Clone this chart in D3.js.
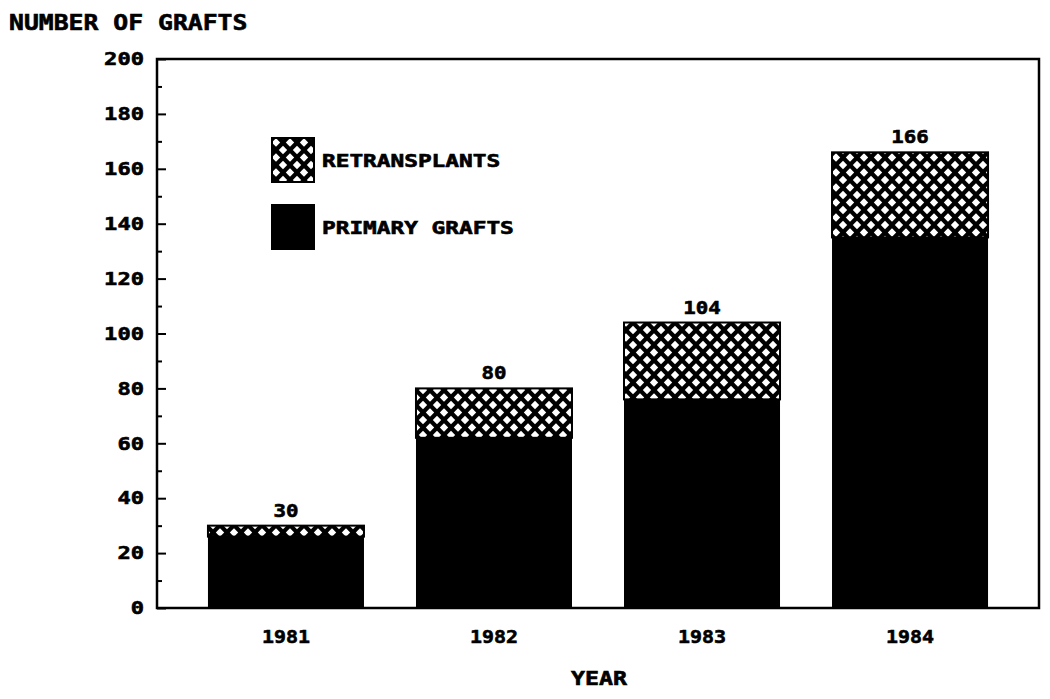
<!DOCTYPE html>
<html>
<head>
  <meta charset="utf-8">
  <title>Number of grafts by year</title>
  <script src="https://d3js.org/d3.v7.min.js"></script>
  <style>
    body { margin: 0; background: #fff; }
    text { font-family: "DejaVu Sans Mono", monospace; font-weight: bold; fill: #000; stroke: #000; stroke-width: 0.6px; }
  </style>
</head>
<body>
  <div id="chart"></div>
  <script>
    // chart data
    const years = ["1981", "1982", "1983", "1984"];
    const primary = [26, 62, 76, 135];
    const retransplants = [4, 18, 28, 31];
    const totals = [30, 80, 104, 166];
    const yTicks = [0, 20, 40, 60, 80, 100, 120, 140, 160, 180, 200];
    const yMinor = [10, 30, 50, 70, 90, 110, 130, 150, 170, 190];

    const width = 1050, height = 699;
    const plotL = 157, plotR = 1039, plotT = 59, plotB = 608;

    const svg = d3.select("#chart").append("svg")
      .attr("width", width)
      .attr("height", height);

    // cross-hatch fill: black ground with white diamonds
    const defs = svg.append("defs");
    const pat = defs.append("pattern")
      .attr("id", "hatch")
      .attr("patternUnits", "userSpaceOnUse")
      .attr("width", 14).attr("height", 15)
      .attr("x", 3).attr("y", 0);
    pat.append("rect").attr("width", 14).attr("height", 15).attr("fill", "#000");
    const diamond = (cx, cy, r) => `M${cx},${cy - r}L${cx + r},${cy}L${cx},${cy + r}L${cx - r},${cy}Z`;
    [[0, 0], [14, 0], [0, 15], [14, 15], [7, 7.5]].forEach(([cx, cy]) => {
      pat.append("path").attr("d", diamond(cx, cy, 4.2)).attr("fill", "#fff");
    });

    const x = d3.scaleBand()
      .domain(years)
      .range([plotL, plotR])
      .paddingInner(0.25)
      .paddingOuter(0.245);

    const y = d3.scaleLinear()
      .domain([0, 200])
      .range([plotB, plotT]);

    // stretch helper so the mono font looks like the wide plotter lettering
    function stretch(sel, charW) {
      sel.attr("textLength", function() { return this.textContent.length * charW; })
        .attr("lengthAdjust", "spacingAndGlyphs");
    }

    // bars: primary solid, retransplants stacked on top
    const g = svg.append("g");
    years.forEach((yr, i) => {
      const base = primary[i];
      const topVal = primary[i] + retransplants[i];
      g.append("rect")
        .attr("x", x(yr)).attr("width", x.bandwidth())
        .attr("y", y(base)).attr("height", y(0) - y(base))
        .attr("fill", "#000");
      g.append("rect")
        .attr("x", x(yr)).attr("width", x.bandwidth())
        .attr("y", y(topVal)).attr("height", y(base) - y(topVal))
        .attr("fill", "url(#hatch)")
        .attr("stroke", "#000").attr("stroke-width", 2);
      g.append("text")
        .attr("x", x(yr) + x.bandwidth() / 2)
        .attr("y", y(totals[i]) - 9)
        .attr("text-anchor", "middle")
        .attr("font-size", 18)
        .text(totals[i])
        .call(stretch, 12.5);
    });

    // frame
    svg.append("rect")
      .attr("x", plotL).attr("y", plotT)
      .attr("width", plotR - plotL).attr("height", plotB - plotT)
      .attr("fill", "none").attr("stroke", "#000").attr("stroke-width", 2.5);

    // y axis, ticks inside
    const yAxis = svg.append("g")
      .attr("transform", `translate(${plotL},0)`)
      .call(d3.axisLeft(y).tickValues(yTicks).tickSize(-9).tickPadding(13));
    yAxis.select(".domain").remove();
    yAxis.selectAll("line").attr("stroke-width", 2);
    yAxis.selectAll("text")
      .attr("font-size", 18).attr("font-family", null)
      .call(stretch, 13.3);

    const yMinorAxis = svg.append("g")
      .attr("transform", `translate(${plotL},0)`)
      .call(d3.axisLeft(y).tickValues(yMinor).tickSize(-5).tickFormat(""));
    yMinorAxis.select(".domain").remove();
    yMinorAxis.selectAll("line").attr("stroke-width", 2);

    // x axis labels
    const xAxis = svg.append("g")
      .attr("transform", `translate(0,${plotB})`)
      .call(d3.axisBottom(x).tickSize(0).tickPadding(22));
    xAxis.select(".domain").remove();
    xAxis.selectAll("text")
      .attr("font-size", 18).attr("font-family", null)
      .call(stretch, 12);

    // titles
    svg.append("text")
      .attr("x", 9).attr("y", 30)
      .attr("font-size", 22)
      .text("NUMBER OF GRAFTS")
      .call(stretch, 14.9);

    svg.append("text")
      .attr("x", 599).attr("y", 685)
      .attr("text-anchor", "middle")
      .attr("font-size", 19)
      .text("YEAR")
      .call(stretch, 14);

    // legend
    const legend = [
      { label: "RETRANSPLANTS", fill: "url(#hatch)", y: 138 },
      { label: "PRIMARY GRAFTS", fill: "#000", y: 205 }
    ];
    legend.forEach(d => {
      svg.append("rect")
        .attr("x", 272).attr("y", d.y)
        .attr("width", 42).attr("height", 44)
        .attr("fill", d.fill)
        .attr("stroke", "#000").attr("stroke-width", 2);
      svg.append("text")
        .attr("x", 322).attr("y", d.y + 29)
        .attr("font-size", 17)
        .text(d.label)
        .call(stretch, 13.7);
    });
  </script>
</body>
</html>
